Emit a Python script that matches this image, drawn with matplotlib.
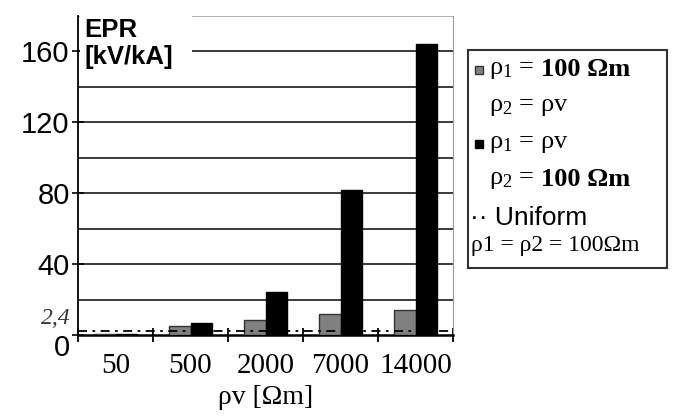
import matplotlib.pyplot as plt
import matplotlib.transforms as mtransforms
from matplotlib.lines import Line2D
from matplotlib.patches import Rectangle
import numpy as np

plt.rcParams["mathtext.fontset"] = "custom"
plt.rcParams["mathtext.rm"] = "Liberation Serif"
plt.rcParams["mathtext.it"] = "Liberation Serif:italic"

# valeurs
categories = ["50", "500", "2000", "7000", "14000"]
epr_rho1_100 = [0.6, 5, 8.5, 12, 14]      # rho1 = 100 Ohm.m, rho2 = rhoV
epr_rho1_v = [0.6, 7, 24, 82, 164]        # rho1 = rhoV, rho2 = 100 Ohm.m
epr_uniform = 2.4
y_ticks = [0, 40, 80, 120, 160]
grid_levels = [20, 40, 60, 80, 100, 120, 140, 160]

fig = plt.figure(figsize=(6.73, 4.17), dpi=100)
ax = fig.add_axes([78 / 673, 1 - 335 / 417, 375 / 673, 319 / 417])

x = np.arange(len(categories))
w = 0.29
ax.bar(x - w / 2, epr_rho1_100, w, color="#808080", edgecolor="#333333", linewidth=1, zorder=3)
ax.bar(x + w / 2, epr_rho1_v, w, color="black", edgecolor="black", linewidth=1, zorder=3)
ax.axhline(epr_uniform, color="black", lw=1.3, linestyle=(0, (5, 3, 1.5, 3)), zorder=4)

for g in grid_levels:
    ax.axhline(g, color="#3a3a3a", lw=1.4, zorder=1)
ax.axhline(180, color="#b0b0b0", lw=1.4, zorder=1)

ax.set_xlim(-0.5, len(categories) - 0.5)
ax.set_ylim(0, 180)

ax.spines["top"].set_visible(False)
ax.spines["right"].set_color("#999999")
ax.spines["left"].set_linewidth(1.3)
ax.spines["bottom"].set_linewidth(1.8)

ax.set_yticks(y_ticks)
ax.set_yticklabels([str(v) for v in y_ticks], fontsize=21, family="Liberation Sans")
ax.tick_params(axis="y", direction="inout", length=8, width=1.2, pad=2)
lab0 = ax.get_yticklabels()[0]
lab0.set_transform(lab0.get_transform() + mtransforms.ScaledTranslation(0, -10 / 100, fig.dpi_scale_trans))

ax.set_xticks(x)
ax.set_xticklabels(categories, fontsize=21, family="Liberation Serif")
ax.set_xticks(np.arange(-0.5, len(categories)), minor=True)
ax.tick_params(axis="x", which="major", length=0, pad=13)
ax.tick_params(axis="x", which="minor", direction="inout", length=10, width=1.3)
ax.set_xlabel("ρv [Ωm]", fontsize=20, family="Liberation Serif", labelpad=4)

ax.text(-0.6, 2.4 + 7, "2,4", fontsize=17, family="Liberation Serif", style="italic",
        ha="right", va="center", color="#333333")

# étiquette EPR
ax.add_patch(Rectangle((-0.48, 146), 1.5, 34, facecolor="white", edgecolor="none", zorder=2))
ax.text(-0.41, 179, "EPR\n[kV/kA]", fontsize=18.5, fontweight="bold", family="Liberation Sans",
        ha="left", va="top", linespacing=1.15, zorder=5)

# légende faite à la main
fig.add_artist(Rectangle((468 / 673, 1 - 268 / 417), 199 / 673, 218 / 417, transform=fig.transFigure,
                         facecolor="white", edgecolor="#333333", linewidth=1.5))
serif = "Liberation Serif"
def ftxt(px, py, s, **kw):
    fig.text(px / 673, 1 - py / 417, s, va="center", ha="left", **kw)

fig.add_artist(Line2D([479 / 673], [1 - 70 / 417], marker="s", markersize=6, color="#808080",
                      markeredgecolor="#333333", transform=fig.transFigure))
fig.add_artist(Line2D([479 / 673], [1 - 144 / 417], marker="s", markersize=6, color="black",
                      transform=fig.transFigure))
ftxt(489, 70, "ρ$_1$ =", fontsize=19, family=serif)
ftxt(541, 70, "100 Ωm", fontsize=19, family=serif, fontweight="bold")
ftxt(489, 107, "ρ$_2$ = ρv", fontsize=19, family=serif)
ftxt(489, 144, "ρ$_1$ = ρv", fontsize=19, family=serif)
ftxt(489, 180, "ρ$_2$ =", fontsize=19, family=serif)
ftxt(541, 180, "100 Ωm", fontsize=19, family=serif, fontweight="bold")
ftxt(470, 218, "·· Uniform", fontsize=19, family="Liberation Sans")
ftxt(471, 246, "ρ1 = ρ2 = 100Ωm", fontsize=17, family=serif)

fig.savefig("out.png", dpi=100)
